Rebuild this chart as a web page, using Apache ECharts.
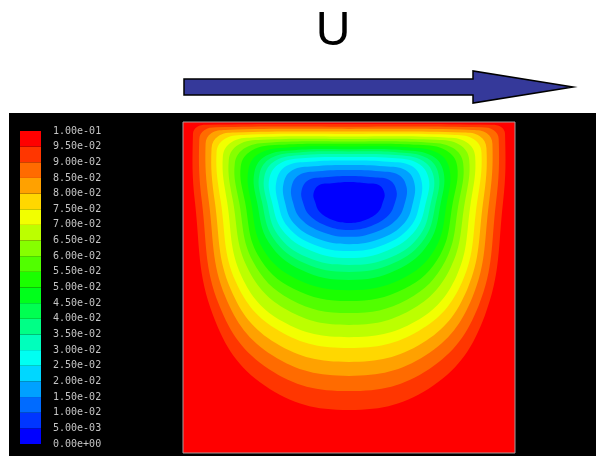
<!DOCTYPE html>
<html lang="en">
<head>
<meta charset="UTF-8">
<title>Stream function contours</title>
<script src="https://cdn.jsdelivr.net/npm/echarts@6.0.0/dist/echarts.min.js"></script>
</head>
<body style="margin: 0; background-color: #ffffff;">
<div style="position: absolute; left: 9px; top: 113px; width: 587px; height: 343px; background-color: #000000;"></div>
<div id="chart" style="position: absolute; left: 0; top: 0; width: 596px; height: 456px;"></div>

<script>
    // contour levels of the stream function
    const levels = [0.005, 0.01, 0.015, 0.02, 0.025, 0.03, 0.035, 0.04, 0.045, 0.05,
                    0.055, 0.06, 0.065, 0.07, 0.075, 0.08, 0.085, 0.09, 0.095];
    const bandStep = 0.005;
    const colorbarMin = 0;
    const colorbarMax = 0.1;

    // contour outlines, cavity units (x right, y up)
    const c005 = [[0.5,0.819],[0.448,0.815],[0.409,0.809],[0.393,0.784],[0.398,0.758],[0.412,0.728],[0.451,0.704],[0.5,0.695],[0.549,0.704],[0.588,0.728],[0.602,0.758],[0.607,0.784],[0.591,0.809],[0.552,0.815]];
    const c010 = [[0.5,0.837],[0.427,0.833],[0.377,0.824],[0.357,0.792],[0.361,0.758],[0.381,0.718],[0.433,0.686],[0.5,0.674],[0.567,0.686],[0.619,0.718],[0.639,0.758],[0.643,0.792],[0.623,0.824],[0.573,0.833]];
    const c015 = [[0.5,0.855],[0.407,0.851],[0.350,0.840],[0.327,0.805],[0.331,0.758],[0.355,0.707],[0.419,0.668],[0.5,0.653],[0.581,0.668],[0.645,0.707],[0.669,0.758],[0.673,0.805],[0.650,0.840],[0.593,0.851]];
    const c020 = [[0.5,0.870],[0.393,0.866],[0.329,0.854],[0.303,0.815],[0.307,0.758],[0.333,0.695],[0.404,0.648],[0.5,0.631],[0.596,0.648],[0.667,0.695],[0.693,0.758],[0.697,0.815],[0.671,0.854],[0.607,0.866]];
    const c025 = [[0.5,0.884],[0.382,0.880],[0.311,0.867],[0.282,0.824],[0.286,0.758],[0.315,0.684],[0.393,0.630],[0.5,0.610],[0.607,0.630],[0.685,0.684],[0.714,0.758],[0.718,0.824],[0.689,0.867],[0.618,0.880]];
    const c030 = [[0.5,0.894],[0.370,0.891],[0.292,0.875],[0.260,0.829],[0.268,0.758],[0.299,0.674],[0.384,0.612],[0.5,0.589],[0.616,0.612],[0.701,0.674],[0.732,0.758],[0.740,0.829],[0.708,0.875],[0.630,0.891]];
    const c035 = [[0.5,0.903],[0.360,0.900],[0.278,0.883],[0.245,0.835],[0.253,0.758],[0.285,0.660],[0.372,0.592],[0.5,0.568],[0.628,0.592],[0.715,0.660],[0.747,0.758],[0.755,0.835],[0.722,0.883],[0.640,0.900]];
    const c040 = [[0.5,0.911],[0.350,0.908],[0.265,0.891],[0.230,0.841],[0.238,0.758],[0.272,0.649],[0.365,0.574],[0.5,0.547],[0.635,0.574],[0.728,0.649],[0.762,0.758],[0.770,0.841],[0.735,0.891],[0.650,0.908]];
    const c045 = [[0.5,0.918],[0.335,0.915],[0.250,0.898],[0.215,0.848],[0.223,0.758],[0.258,0.637],[0.357,0.553],[0.5,0.523],[0.643,0.553],[0.742,0.637],[0.777,0.758],[0.785,0.848],[0.750,0.898],[0.665,0.915]];
    const c050 = [[0.5,0.926],[0.317,0.923],[0.232,0.906],[0.197,0.856],[0.205,0.758],[0.241,0.616],[0.343,0.525],[0.5,0.492],[0.657,0.525],[0.759,0.616],[0.795,0.758],[0.803,0.856],[0.768,0.906],[0.683,0.923]];
    const c055 = [[0.5,0.934],[0.289,0.931],[0.207,0.914],[0.174,0.866],[0.187,0.758],[0.225,0.599],[0.333,0.496],[0.5,0.459],[0.667,0.496],[0.775,0.599],[0.813,0.758],[0.826,0.866],[0.793,0.914],[0.711,0.931]];
    const c060 = [[0.5,0.941],[0.266,0.938],[0.188,0.922],[0.156,0.875],[0.169,0.758],[0.210,0.580],[0.324,0.464],[0.5,0.423],[0.676,0.464],[0.790,0.580],[0.831,0.758],[0.844,0.875],[0.812,0.922],[0.734,0.938]];
    const c065 = [[0.5,0.949],[0.238,0.946],[0.167,0.931],[0.138,0.886],[0.151,0.758],[0.194,0.560],[0.314,0.432],[0.5,0.387],[0.686,0.432],[0.806,0.560],[0.849,0.758],[0.862,0.886],[0.833,0.931],[0.762,0.946]];
    const c070 = [[0.5,0.956],[0.210,0.953],[0.146,0.939],[0.120,0.896],[0.133,0.758],[0.176,0.535],[0.299,0.398],[0.5,0.350],[0.701,0.398],[0.824,0.535],[0.867,0.758],[0.880,0.896],[0.854,0.939],[0.790,0.953]];
    const c075 = [[0.5,0.964],[0.181,0.961],[0.124,0.948],[0.101,0.908],[0.114,0.758],[0.159,0.517],[0.289,0.369],[0.5,0.317],[0.711,0.369],[0.841,0.517],[0.886,0.758],[0.899,0.908],[0.876,0.948],[0.819,0.961]];
    const c080 = [[0.5,0.971],[0.156,0.968],[0.106,0.957],[0.086,0.921],[0.096,0.758],[0.144,0.494],[0.279,0.332],[0.5,0.275],[0.721,0.332],[0.856,0.494],[0.904,0.758],[0.914,0.921],[0.894,0.957],[0.844,0.968]];
    const c085 = [[0.5,0.979],[0.128,0.976],[0.085,0.966],[0.068,0.934],[0.078,0.758],[0.128,0.471],[0.269,0.295],[0.5,0.233],[0.731,0.295],[0.872,0.471],[0.922,0.758],[0.932,0.934],[0.915,0.966],[0.872,0.976]];
    const c090 = [[0.5,0.986],[0.099,0.984],[0.064,0.975],[0.049,0.948],[0.057,0.758],[0.109,0.446],[0.258,0.254],[0.5,0.187],[0.742,0.254],[0.891,0.446],[0.943,0.758],[0.951,0.948],[0.936,0.975],[0.901,0.984]];
    const c095 = [[0.5,0.994],[0.070,0.992],[0.042,0.985],[0.030,0.964],[0.036,0.758],[0.091,0.415],[0.246,0.204],[0.5,0.130],[0.754,0.204],[0.909,0.415],[0.964,0.758],[0.970,0.964],[0.958,0.985],[0.930,0.992]];

    const contours = [c005, c010, c015, c020, c025, c030, c035, c040, c045, c050,
                      c055, c060, c065, c070, c075, c080, c085, c090, c095];

    // rainbow bands, blue (low) to red (high)
    const bandCount = levels.length + 1;
    function bandColor(i) {
        return 'hsl(' + (240 * (1 - i / (bandCount - 1))) + ',100%,50%)';
    }

    // 1.00e-01 style labels
    function sciLabel(v) {
        const m = Number(v).toExponential(2).match(/^(-?[\d.]+)e([+-])(\d+)$/);
        return m[1] + 'e' + m[2] + m[3].padStart(2, '0');
    }

    const myChart = echarts.init(document.getElementById('chart'));

    const option = {
        animation: false,
        backgroundColor: 'transparent',
        grid: [
            { left: 183, top: 122, width: 332, height: 331, show: true,
              backgroundColor: bandColor(bandCount - 1), borderColor: '#a89c9c', borderWidth: 1 },
            { left: 20, top: 131, width: 21, height: 313, show: false }
        ],
        xAxis: [
            { gridIndex: 0, type: 'value', min: 0, max: 1, show: false },
            { gridIndex: 1, type: 'value', min: 0, max: 1, show: false }
        ],
        yAxis: [
            { gridIndex: 0, type: 'value', min: 0, max: 1, show: false },
            {
                gridIndex: 1, type: 'value', position: 'right',
                min: colorbarMin, max: colorbarMax, interval: bandStep,
                axisLine: { show: false }, axisTick: { show: false }, splitLine: { show: false },
                axisLabel: {
                    margin: 12, color: '#c4c4c4', fontSize: 10,
                    fontFamily: 'DejaVu Sans Mono', showMaxLabel: true, showMinLabel: true,
                    formatter: sciLabel
                }
            }
        ],
        graphic: [
            {
                type: 'polygon',
                shape: { points: [[184, 79], [473, 79], [473, 71], [573, 87], [473, 103], [473, 95], [184, 95]] },
                style: { fill: '#35399a', stroke: '#000000', lineWidth: 1.5 }
            },
            {
                type: 'text', x: 333, y: 32,
                style: { text: 'U', fill: '#000000', font: '48px "Liberation Sans"',
                         align: 'center', verticalAlign: 'middle', textAlign: 'center', textVerticalAlign: 'middle' }
            }
        ],
        series: [
            {
                // filled contour bands, outermost first
                type: 'custom',
                xAxisIndex: 0, yAxisIndex: 0,
                clip: true,
                data: levels.map((lv, j) => [0.5, 0.5, j]).reverse(),
                renderItem: function (params, api) {
                    const j = api.value(2);
                    const pts = contours[j].map(p => api.coord(p));
                    return {
                        type: 'polygon',
                        shape: { points: pts, smooth: 0.4 },
                        style: { fill: bandColor(j), stroke: null }
                    };
                }
            },
            {
                // colour bar
                type: 'custom',
                xAxisIndex: 1, yAxisIndex: 1,
                data: [colorbarMin].concat(levels).map((lo, i) => [0, lo, i]),
                renderItem: function (params, api) {
                    const lo = api.value(1);
                    const p0 = api.coord([0, lo + bandStep]);
                    const p1 = api.coord([1, lo]);
                    return {
                        type: 'rect',
                        shape: { x: p0[0], y: p0[1], width: p1[0] - p0[0], height: p1[1] - p0[1] },
                        style: { fill: bandColor(api.value(2)), stroke: null }
                    };
                }
            }
        ]
    };

    myChart.setOption(option);
</script>
</body>
</html>
